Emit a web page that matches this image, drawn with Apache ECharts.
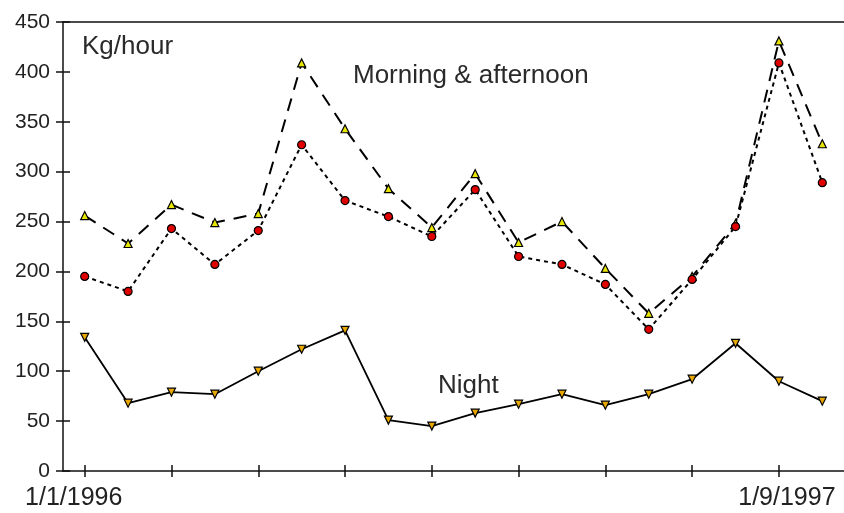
<!DOCTYPE html>
<html><head><meta charset="utf-8">
<script src="https://cdn.jsdelivr.net/npm/echarts@6/dist/echarts.min.js"></script>
<style>html,body{margin:0;padding:0;background:#fff}#c{width:844px;height:513px}</style>
</head><body><div id="c"></div>
<script>
const categories = ['1/1/1996','','','','','','','','','','','','','','','','1/9/1997',''];
const morning = [256, 228, 267, 249, 258, 409, 343, 283, 244, 298, 229, 250, 203, 158, 195, 248, 431, 328];
const afternoon = [195, 180, 243, 207, 241, 327, 271, 255, 235, 282, 215, 207, 187, 142, 192, 245, 409, 289];
const night = [134, 68, 79, 77, 100, 122, 141, 51, 45, 58, 67, 77, 66, 77, 92, 128, 90, 70];
const yTicks = {min: 0, max: 450, interval: 50};

const txt = '#222';
const font = 'Liberation Sans, Arial, sans-serif';
const chart = echarts.init(document.getElementById('c'));
const tickShow = (i) => i % 2 === 0 && i <= 16;
chart.setOption({
  animation: false,
  backgroundColor: '#fff',
  grid: {left: 63, top: 22, width: 783, bottom: 42},
  xAxis: [
    {type: 'category', data: categories, boundaryGap: true, position: 'bottom',
     axisLine: {lineStyle: {color: '#111', width: 1.5}},
     axisTick: {show: true, alignWithLabel: true, interval: tickShow, length: 6, lineStyle: {color: '#111', width: 1.5}},
     axisLabel: {interval: (i) => i === 0 || i === 16, margin: 15, color: txt, fontSize: 25, fontFamily: font,
       formatter: (v, i) => i === 0 ? '{a|' + v + '}' : '{b|' + v + '}',
       rich: {a: {padding: [0, 22, 0, 0], fontSize: 25, fontFamily: font, color: txt},
              b: {padding: [0, 0, 0, 16], fontSize: 25, fontFamily: font, color: txt}}},
     splitLine: {show: false}},
    {type: 'category', data: categories, boundaryGap: true, position: 'bottom',
     axisLine: {show: false},
     axisTick: {show: true, inside: true, alignWithLabel: true, interval: tickShow, length: 6, lineStyle: {color: '#111', width: 1.5}},
     axisLabel: {show: false}, splitLine: {show: false}},
    {type: 'category', data: categories, position: 'top',
     axisLine: {lineStyle: {color: '#111', width: 1.5}},
     axisTick: {show: false}, axisLabel: {show: false}, splitLine: {show: false}}
  ],
  yAxis: [
    {type: 'value', min: yTicks.min, max: yTicks.max, interval: yTicks.interval, position: 'left',
     axisLine: {show: true, lineStyle: {color: '#111', width: 1.5}},
     axisTick: {show: true, length: 7, lineStyle: {color: '#111', width: 1.5}},
     axisLabel: {margin: 13, color: txt, fontSize: 21, fontFamily: font},
     splitLine: {show: false}},
    {type: 'value', min: yTicks.min, max: yTicks.max, interval: yTicks.interval, position: 'left',
     axisLine: {show: false},
     axisTick: {show: true, inside: true, length: 7, lineStyle: {color: '#111', width: 1.5}},
     axisLabel: {show: false}, splitLine: {show: false}}
  ],
  series: [
    {name: 'Morning', type: 'line', data: morning, xAxisIndex: 0, yAxisIndex: 0,
     symbol: 'triangle', symbolSize: 8,
     itemStyle: {color: '#e8e600', borderColor: '#000', borderWidth: 1.2},
     lineStyle: {color: '#000', width: 2, type: [13, 9]}},
    {name: 'Afternoon', type: 'line', data: afternoon, xAxisIndex: 0, yAxisIndex: 0,
     symbol: 'circle', symbolSize: 8,
     itemStyle: {color: '#e00000', borderColor: '#000', borderWidth: 1.2},
     lineStyle: {color: '#000', width: 2, type: [4, 4]}},
    {name: 'Night', type: 'line', data: night, xAxisIndex: 0, yAxisIndex: 0,
     symbol: 'triangle', symbolRotate: 180, symbolSize: 8,
     itemStyle: {color: '#e8a800', borderColor: '#000', borderWidth: 1.2},
     lineStyle: {color: '#000', width: 1.8}}
  ],
  graphic: [
    {type: 'text', x: 82, y: 47, style: {text: 'Kg/hour', fontSize: 26, fontFamily: font, fill: '#2a2a2a', verticalAlign: 'middle'}},
    {type: 'text', x: 353, y: 76, style: {text: 'Morning & afternoon', fontSize: 26, fontFamily: font, fill: '#2a2a2a', verticalAlign: 'middle'}},
    {type: 'text', x: 438, y: 386, style: {text: 'Night', fontSize: 26, fontFamily: font, fill: '#2a2a2a', verticalAlign: 'middle'}}
  ]
});
</script></body></html>
